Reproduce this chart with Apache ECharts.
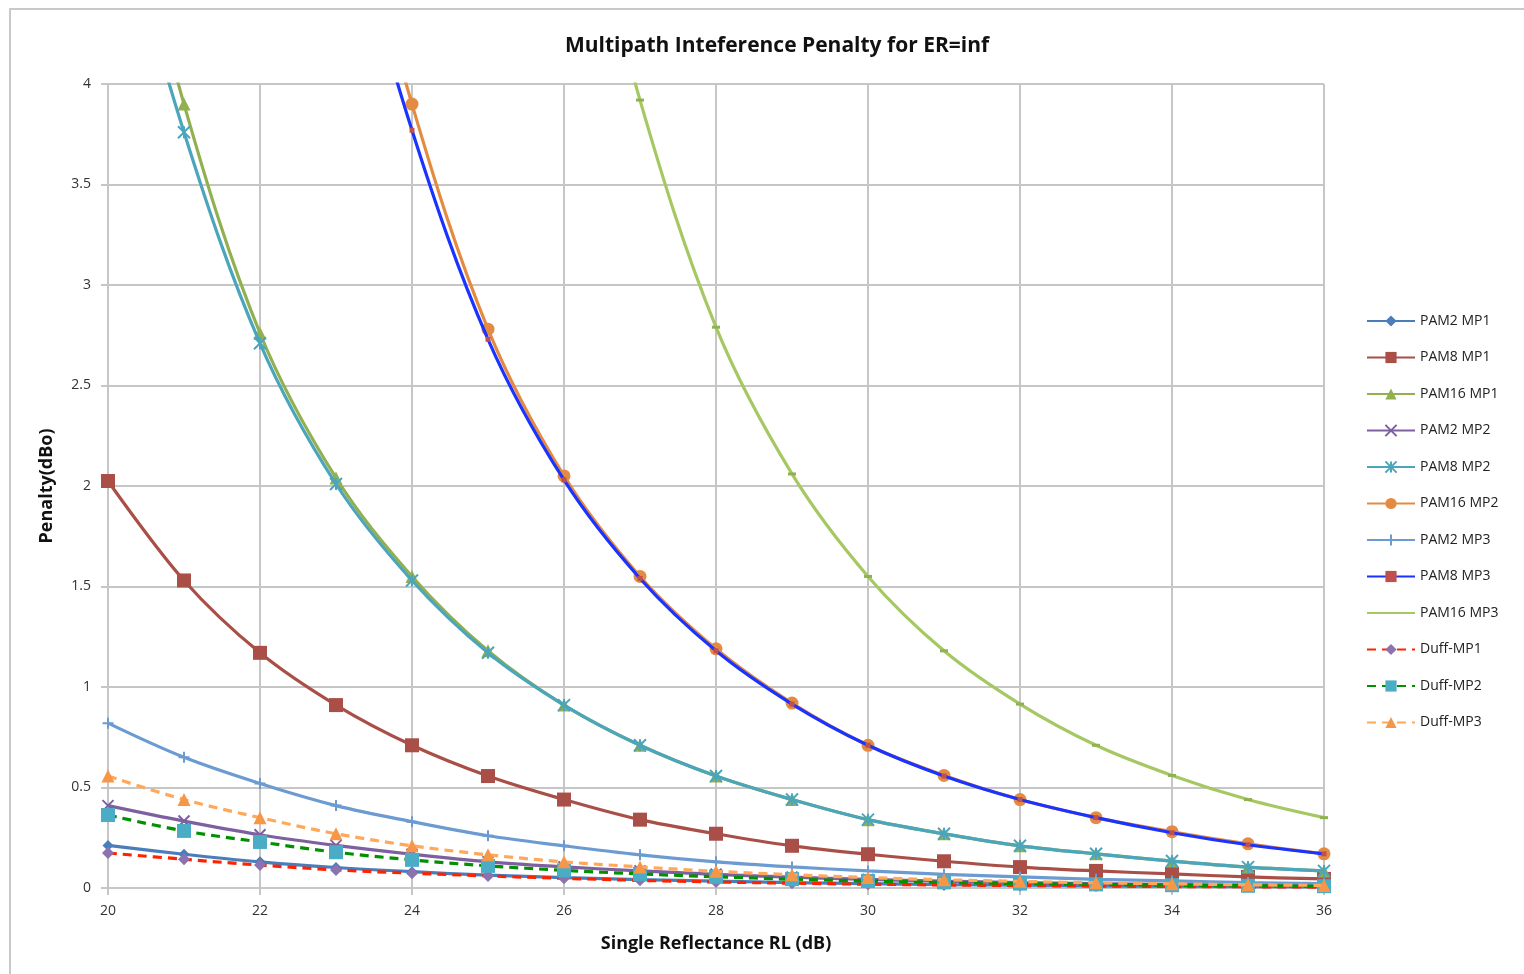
<!DOCTYPE html>
<html><head><meta charset="utf-8">
<script src="https://cdn.jsdelivr.net/npm/echarts@6/dist/echarts.min.js"></script>
<style>html,body{margin:0;padding:0;background:#fff}#c{width:1524px;height:974px}</style>
</head><body><div id="c"></div>
<script>
const titleText = 'Multipath Inteference Penalty for ER=inf';
const xName = 'Single Reflectance RL (dB)';
const yName = 'Penalty(dBo)';
const rl = [20,21,22,23,24,25,26,27,28,29,30,31,32,33,34,35,36];

const pam2mp1  = [0.212,0.168,0.13,0.102,0.081,0.064,0.052,0.042,0.034,0.027,0.022,0.017,0.014,0.011,0.0088,0.007,0.0055];
const pam8mp1  = [2.025,1.53,1.17,0.91,0.71,0.557,0.44,0.34,0.27,0.21,0.168,0.133,0.104,0.085,0.07,0.055,0.045];
const pam16mp1 = [5.4,3.9,2.76,2.04,1.55,1.18,0.91,0.71,0.557,0.44,0.34,0.27,0.21,0.17,0.134,0.104,0.085];
const pam2mp2  = [0.41,0.333,0.265,0.212,0.168,0.13,0.105,0.085,0.068,0.054,0.043,0.034,0.027,0.022,0.018,0.014,0.011];
const pam8mp2  = [5.1,3.76,2.71,2.01,1.53,1.17,0.91,0.71,0.557,0.44,0.34,0.27,0.21,0.17,0.134,0.104,0.085];
const pam16mp2 = [null,null,null,5.35,3.9,2.78,2.05,1.55,1.19,0.92,0.71,0.56,0.44,0.35,0.28,0.22,0.17];
const pam2mp3  = [0.82,0.65,0.52,0.41,0.33,0.26,0.21,0.165,0.13,0.105,0.085,0.068,0.055,0.043,0.035,0.027,0.022];
const pam8mp3  = [null,null,null,5.1,3.77,2.73,2.03,1.54,1.18,0.915,0.71,0.557,0.44,0.35,0.275,0.215,0.17];
const pam16mp3 = [null,null,null,null,null,null,5.4,3.92,2.79,2.06,1.55,1.18,0.915,0.71,0.56,0.44,0.35];
const duffmp1  = [0.174,0.143,0.114,0.09,0.074,0.06,0.048,0.038,0.03,0.024,0.019,0.015,0.012,0.0095,0.0075,0.006,0.0047];
const duffmp2  = [0.363,0.284,0.229,0.178,0.14,0.11,0.088,0.07,0.056,0.044,0.035,0.028,0.022,0.018,0.014,0.011,0.009];
const duffmp3  = [0.557,0.44,0.35,0.27,0.21,0.165,0.13,0.105,0.083,0.066,0.052,0.041,0.033,0.026,0.021,0.016,0.013];

const seriesNames = ['PAM2 MP1','PAM8 MP1','PAM16 MP1','PAM2 MP2','PAM8 MP2','PAM16 MP2','PAM2 MP3','PAM8 MP3','PAM16 MP3','Duff-MP1','Duff-MP2','Duff-MP3'];
const seriesValues = [pam2mp1,pam8mp1,pam16mp1,pam2mp2,pam8mp2,pam16mp2,pam2mp3,pam8mp3,pam16mp3,duffmp1,duffmp2,duffmp3];

const X = 'path://M0,0L10,10M10,0L0,10';
const AST = 'path://M0,0L10,10M10,0L0,10M5,0L5,10';
const PLUS = 'path://M5,0L5,10M0,5L10,5';
const styles = [
  {line:'#4a7ebb', mark:'#4a7ebb', sym:'diamond', size:11},
  {line:'#aa4f47', mark:'#aa4f47', sym:'rect', size:14},
  {line:'#93b050', mark:'#93b050', sym:'triangle', size:13},
  {line:'#7d60a0', mark:'#7d60a0', sym:X, size:11, stroke:true},
  {line:'#4ba5bb', mark:'#4ba5bb', sym:AST, size:12, stroke:true},
  {line:'#e38b43', mark:'#e38b43', sym:'circle', size:13},
  {line:'#6b9bd0', mark:'#6b9bd0', sym:PLUS, size:11, stroke:true},
  {line:'#1a33ff', mark:'#c0504d', sym:'rect', size:5},
  {line:'#a5c862', mark:'#8fb250', sym:'rect', size:[8,3]},
  {line:'#ff2200', mark:'#8e72b0', sym:'diamond', size:12, dash:true},
  {line:'#009000', mark:'#4bacc6', sym:'rect', size:14, dash:true},
  {line:'#ffa85a', mark:'#f79646', sym:'triangle', size:13, dash:true}
];

const FONT = '"Open Sans", Lato, sans-serif';

const series = seriesNames.map((name,i)=>{
  const s = styles[i];
  return {
    name, type:'line', smooth:0.35, clip:true,
    data: rl.map((x,j)=> seriesValues[i][j]==null ? null : [x, seriesValues[i][j]]).filter(d=>d),
    symbol: s.sym, symbolSize: s.size, showSymbol:true,
    lineStyle:{color:s.line, width:3.2, type: s.dash ? [9,6] : 'solid'},
    itemStyle: s.stroke ? {color:'rgba(0,0,0,0)', borderColor:s.mark, borderWidth:2} : {color:s.mark, borderWidth:0},
    emphasis:{disabled:true},
    z: 2+i
  };
});

const legendData = seriesNames.map((name,i)=> i===8 ? {name, itemStyle:{opacity:0}} : {name});

const chart = echarts.init(document.getElementById('c'), null, {renderer:'canvas'});
chart.setOption({
  animation:false,
  backgroundColor:'#fff',
  graphic:[{type:'rect', shape:{x:10,y:9,width:1540,height:1000}, style:{fill:'none', stroke:'#c9c9c9', lineWidth:2}, silent:true}],
  title:{text:titleText, left:772, textAlign:'center', top:31, textStyle:{fontFamily:FONT, fontSize:21, fontWeight:'bold', color:'#111'}},
  grid:{left:108, right:200, top:84, bottom:86, containLabel:false},
  legend:{
    orient:'vertical', left:1361, top:309, itemWidth:48, itemHeight:14, itemGap:22.5,
    textStyle:{fontFamily:FONT, fontSize:14, color:'#222'},
    data: legendData
  },
  xAxis:{
    type:'value', min:20, max:36, interval:2,
    name:xName, nameLocation:'middle', nameGap:47,
    nameTextStyle:{fontFamily:FONT, fontSize:18, fontWeight:'bold', color:'#111'},
    axisLine:{show:true, lineStyle:{color:'#c6c6c6', width:2}},
    axisTick:{show:true, length:7, lineStyle:{color:'#c6c6c6', width:2}},
    axisLabel:{fontFamily:FONT, fontSize:14, color:'#333', margin:16},
    splitLine:{show:true, lineStyle:{color:'#c6c6c6', width:2}}
  },
  yAxis:{
    type:'value', min:0, max:4, interval:0.5,
    name:yName, nameLocation:'middle', nameGap:52,
    nameTextStyle:{fontFamily:FONT, fontSize:18, fontWeight:'bold', color:'#111'},
    axisLine:{show:true, lineStyle:{color:'#c6c6c6', width:2}},
    axisTick:{show:true, length:7, lineStyle:{color:'#c6c6c6', width:2}},
    axisLabel:{fontFamily:FONT, fontSize:14, color:'#333', margin:17},
    splitLine:{show:true, lineStyle:{color:'#c6c6c6', width:2}}
  },
  series
});
</script>
</body></html>
